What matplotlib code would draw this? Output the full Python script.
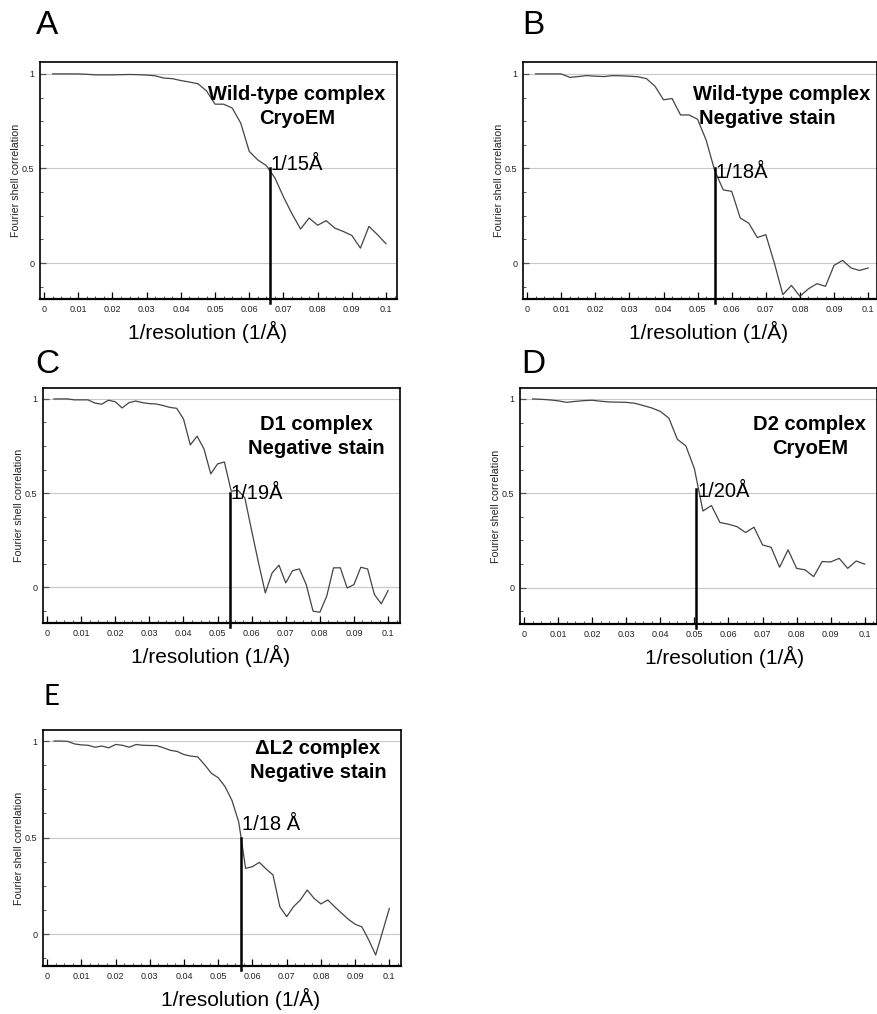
import matplotlib
matplotlib.use("Agg")
import matplotlib.pyplot as plt
from matplotlib.ticker import MultipleLocator

plt.rcParams['font.family'] = ['Liberation Sans', 'DejaVu Sans']

# spatial frequency grids (1/A)
freq_a = [0.0025, 0.005, 0.0075, 0.01, 0.0125, 0.015, 0.0175, 0.02, 0.0225, 0.025,
          0.0275, 0.03, 0.0325, 0.035, 0.0375, 0.04, 0.0425, 0.045, 0.0475, 0.05,
          0.0525, 0.055, 0.0575, 0.06, 0.0625, 0.065, 0.0675, 0.07, 0.0725, 0.075,
          0.0775, 0.08, 0.0825, 0.085, 0.0875, 0.09, 0.0925, 0.095, 0.0975, 0.1]
freq_b = [0.002, 0.004, 0.006, 0.008, 0.01, 0.012, 0.014, 0.016, 0.018, 0.02,
          0.022, 0.024, 0.026, 0.028, 0.03, 0.032, 0.034, 0.036, 0.038, 0.04,
          0.042, 0.044, 0.046, 0.048, 0.05, 0.052, 0.054, 0.056, 0.058, 0.06,
          0.062, 0.064, 0.066, 0.068, 0.07, 0.072, 0.074, 0.076, 0.078, 0.08,
          0.082, 0.084, 0.086, 0.088, 0.09, 0.092, 0.094, 0.096, 0.098, 0.1]

# FSC curves
fsc_wt_cryo = [1.0, 1.0, 1.0, 1.0, 0.998, 0.995, 0.995, 0.995, 0.996, 0.997,
               0.996, 0.994, 0.99, 0.978, 0.975, 0.965, 0.957, 0.948, 0.91, 0.84,
               0.84, 0.82, 0.74, 0.59, 0.545, 0.515, 0.45, 0.35, 0.26, 0.18,
               0.238, 0.2, 0.224, 0.185, 0.167, 0.146, 0.079, 0.194, 0.15, 0.102]
fsc_wt_neg = [1.0, 1.0, 1.0, 1.0, 0.982, 0.986, 0.991, 0.988, 0.986, 0.991,
              0.99, 0.988, 0.985, 0.975, 0.935, 0.863, 0.87, 0.783, 0.783, 0.76,
              0.65, 0.49, 0.387, 0.379, 0.238, 0.211, 0.135, 0.15, 0.0, -0.167,
              -0.118, -0.176, -0.136, -0.109, -0.123, -0.012, 0.014, -0.026, -0.039, -0.026]
fsc_d1_neg = [1.0, 1.0, 1.0, 0.995, 0.995, 0.995, 0.978, 0.972, 0.993, 0.985,
              0.952, 0.98, 0.989, 0.98, 0.975, 0.973, 0.965, 0.955, 0.95, 0.894,
              0.756, 0.802, 0.735, 0.602, 0.655, 0.665, 0.51, 0.515, 0.474, 0.3,
              0.13, -0.03, 0.076, 0.117, 0.023, 0.088, 0.097, 0.014, -0.127, -0.133,
              -0.048, 0.103, 0.103, -0.004, 0.014, 0.106, 0.097, -0.039, -0.088, -0.018]
fsc_d2_cryo = [1.0, 0.998, 0.995, 0.99, 0.982, 0.987, 0.991, 0.993, 0.988, 0.984,
               0.983, 0.982, 0.977, 0.965, 0.952, 0.934, 0.898, 0.786, 0.751, 0.63,
               0.406, 0.435, 0.345, 0.336, 0.323, 0.292, 0.32, 0.226, 0.214, 0.108,
               0.2, 0.102, 0.094, 0.058, 0.138, 0.136, 0.155, 0.102, 0.141, 0.124]
fsc_dl2_neg = [1.0, 1.0, 0.998, 0.985, 0.98, 0.978, 0.968, 0.974, 0.965, 0.982,
               0.978, 0.968, 0.982, 0.978, 0.977, 0.976, 0.965, 0.952, 0.946, 0.93,
               0.922, 0.918, 0.878, 0.833, 0.81, 0.764, 0.693, 0.58, 0.341, 0.35,
               0.372, 0.338, 0.307, 0.143, 0.091, 0.143, 0.178, 0.229, 0.186, 0.157,
               0.178, 0.143, 0.11, 0.078, 0.052, 0.038, -0.03, -0.107, 0.013, 0.134]

# resolution cut-offs (1/A) and labels
res_x = [0.066, 0.055, 0.0535, 0.0505, 0.0566]
res_top = [0.5, 0.5, 0.5, 0.52, 0.5]
res_labels = ['1/15Å', '1/18Å', '1/19Å', '1/20Å', '1/18 Å']
titles = [('Wild-type complex', 'CryoEM'),
          ('Wild-type complex', 'Negative stain'),
          ('D1 complex', 'Negative stain'),
          ('D2 complex', 'CryoEM'),
          ('ΔL2 complex', 'Negative stain')]
letters = ['A', 'B', 'C', 'D', 'E']
tick_vals = [0, 0.01, 0.02, 0.03, 0.04, 0.05, 0.06, 0.07, 0.08, 0.09, 0.1]
tick_text = ['0', '0.01', '0.02', '0.03', '0.04', '0.05', '0.06',
             '0.07', '0.08', '0.09', '0.1']

W, H = 878, 1014
fig = plt.figure(figsize=(W / 100, H / 100), dpi=100)


def px_axes(x0, y0, x1, y1):
    return fig.add_axes([x0 / W, 1 - y1 / H, (x1 - x0) / W, (y1 - y0) / H])


# panel layout in pixels / axes fractions
panels = [
    dict(box=(40, 62, 397, 299), ylim=(-0.19, 1.063), xlim=(-0.0012, 0.1032),
         x=freq_a, y=fsc_wt_cryo, tx=(0.72, 0.72), ty=(0.889, 0.762),
         ly=0.52, letter=(47, 26), xl=0.468),
    dict(box=(523, 62, 877, 299), ylim=(-0.19, 1.063), xlim=(-0.0012, 0.1026),
         x=freq_a, y=fsc_wt_neg, tx=(0.732, 0.69), ty=(0.889, 0.762),
         ly=0.48, letter=(533, 26), xl=0.523),
    dict(box=(43, 388, 400, 623), ylim=(-0.19, 1.058), xlim=(-0.0012, 0.1035),
         x=freq_b, y=fsc_d1_neg, tx=(0.765, 0.765), ty=(0.865, 0.737),
         ly=0.5, letter=(47, 364), xl=0.47),
    dict(box=(520, 388, 877, 624), ylim=(-0.193, 1.058), xlim=(-0.0012, 0.1036),
         x=freq_a, y=fsc_d2_cryo, tx=(0.812, 0.812), ty=(0.865, 0.737),
         ly=0.51, letter=(533, 364), xl=0.574),
    dict(box=(43, 730, 401, 966), ylim=(-0.164, 1.057), xlim=(-0.0012, 0.1034),
         x=freq_b, y=fsc_dl2_neg, tx=(0.768, 0.768), ty=(0.96, 0.835),
         ly=0.57, letter=(52, 697), xl=0.553),
]

for i, p in enumerate(panels):
    ax = px_axes(*p['box'])
    ax.set_xlim(*p['xlim'])
    ax.set_ylim(*p['ylim'])
    for yv in [0, 0.5, 1]:
        ax.axhline(yv, color='#c8c8c8', lw=0.8, zorder=0)
    ax.plot(p['x'], p['y'], color='#444444', lw=0.9)
    ax.plot([res_x[i], res_x[i]], [p['ylim'][0] - 0.02, res_top[i]],
            color='black', lw=1.8, clip_on=False, zorder=3)
    ax.text(res_x[i] + 0.0003, p['ly'], res_labels[i], fontsize=14.5,
            ha='left', va='center')
    # title lines: x in axes fraction, y in data
    for line, xx, yy in zip(titles[i], p['tx'], p['ty']):
        ax.text(xx, yy, line, transform=ax.get_yaxis_transform(),
                fontsize=14.5, fontweight='bold', ha='center', va='center')

    ax.set_xticks(tick_vals)
    ax.set_xticklabels(tick_text)
    ax.xaxis.set_minor_locator(MultipleLocator(0.0025))
    ax.set_yticks([0, 0.5, 1])
    ax.set_yticklabels(['0', '0.5', '1'])
    ax.yaxis.set_minor_locator(MultipleLocator(0.125))
    ax.tick_params(axis='both', which='major', direction='in', labelsize=6.5,
                   length=5, width=0.9, pad=4, labelcolor='#222222')
    ax.tick_params(axis='both', which='minor', direction='in', length=2.5,
                   width=0.7, color='#555555')
    ax.tick_params(axis='y', which='major', length=4, color='#555555')
    for s in ax.spines.values():
        s.set_linewidth(1.2)
    ax.spines['bottom'].set_linewidth(1.6)
    ax.set_xlabel('1/resolution (1/Å)', fontsize=15, labelpad=5)
    ax.xaxis.label.set_x(p['xl'])
    ax.set_ylabel('Fourier shell correlation', fontsize=7.7, labelpad=1,
                  color='#222222')

    lx, ly = p['letter']
    if letters[i] == 'E':
        fig.text(lx / W, 1 - ly / H, 'E', fontsize=20, family='Lato',
                 ha='center', va='center')
    else:
        fig.text(lx / W, 1 - ly / H, letters[i], fontsize=24,
                 ha='center', va='center')

fig.savefig('out.png', dpi=100)
